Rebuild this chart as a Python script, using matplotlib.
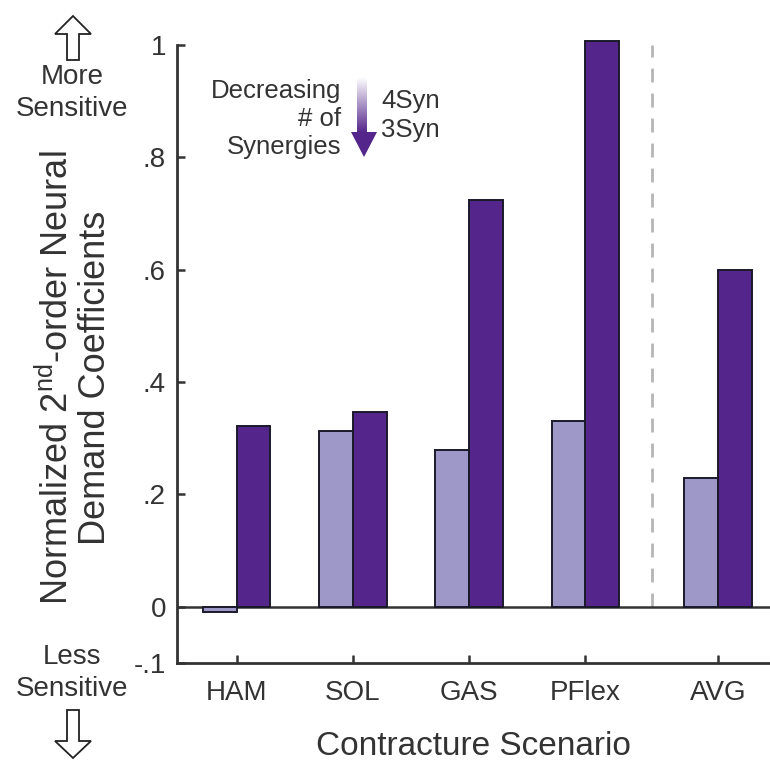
import numpy as np
import matplotlib
matplotlib.use("Agg")
import matplotlib.pyplot as plt
from matplotlib.colors import LinearSegmentedColormap
from matplotlib.patches import Polygon

plt.rcParams['font.family'] = ['Liberation Sans', 'DejaVu Sans']
plt.rcParams['mathtext.fontset'] = 'custom'
plt.rcParams['mathtext.rm'] = 'Liberation Sans'
plt.rcParams['mathtext.it'] = 'Liberation Sans'

# data
scenarios = ['HAM', 'SOL', 'GAS', 'PFlex', 'AVG']
xpos = [1, 2, 3, 4, 5.14]
syn4 = [-0.010, 0.313, 0.279, 0.331, 0.230]
syn3 = [0.322, 0.346, 0.724, 1.008, 0.600]
yticks = [-0.1, 0, 0.2, 0.4, 0.6, 0.8, 1.0]
ytick_labels = ['-.1', '0', '.2', '.4', '.6', '.8', '1']

light = '#9d98c8'
dark = '#54258a'
txt = '#333333'
w = 0.29

fig = plt.figure(figsize=(7.7, 7.61), dpi=100)
ax = fig.add_axes([177 / 770, 1 - 663 / 761, 1 - 177 / 770, (663 - 45) / 761])

x = np.array(xpos)
ax.bar(x - w / 2, syn4, w, color=light, edgecolor='#1a1a2a', linewidth=1.4, clip_on=False, zorder=3)
ax.bar(x + w / 2, syn3, w, color=dark, edgecolor='#1a1a2a', linewidth=1.4, clip_on=False, zorder=3)
ax.axhline(0, color=txt, lw=1.8, zorder=2)
ax.plot([4.57, 4.57], [0, 1.0], color='#b5b5b5', lw=2, dashes=(5, 4), zorder=1)

ax.set_xlim(0.487, 5.587)
ax.set_ylim(-0.1, 1.0)
ax.set_xticks(xpos)
ax.set_xticklabels(scenarios)
ax.set_yticks(yticks)
ax.set_yticklabels(ytick_labels)
ax.tick_params(direction='in', length=6, width=1.8, color=txt, labelcolor=txt, labelsize=20)
ax.tick_params(axis='x', pad=12)
ax.tick_params(axis='y', pad=8)
for s in ['top', 'right']:
    ax.spines[s].set_visible(False)
for s in ['left', 'bottom']:
    ax.spines[s].set_color(txt)
    ax.spines[s].set_linewidth(2)
ax.set_xlabel('Contracture Scenario', fontsize=24, color=txt, labelpad=18)

# overlay in pixel coordinates for side annotations
ov = fig.add_axes([0, 0, 1, 1], zorder=5)
ov.set_xlim(0, 770)
ov.set_ylim(761, 0)
ov.axis('off')
ov.patch.set_alpha(0)

ov.text(76, 378, 'Normalized 2$^{\\rm nd}$-order Neural\nDemand Coefficients', rotation=90,
        ha='center', va='center', multialignment='center', fontsize=26, color=txt, linespacing=1.1)

ov.text(72, 93, 'More\nSensitive', ha='center', va='center', fontsize=20, color=txt, linespacing=1.35)
ov.text(72, 673, 'Less\nSensitive', ha='center', va='center', fontsize=20, color=txt, linespacing=1.35)

up = [(73, 16), (91, 34), (79, 34), (79, 60), (67, 60), (67, 34), (55, 34)]
down = [(73, 758), (91, 741), (79, 741), (79, 710), (67, 710), (67, 741), (55, 741)]
for pts in (up, down):
    ov.add_patch(Polygon(pts, closed=True, fc='white', ec='#222222', lw=1.3))

ov.text(341, 119, 'Decreasing\n# of\nSynergies', ha='right', va='center', fontsize=18.5,
        color=txt, linespacing=1.2, multialignment='right')
cmap = LinearSegmentedColormap.from_list('g', ['#ffffff', dark])
grad = np.linspace(0, 1, 100).reshape(-1, 1)
ov.imshow(grad, cmap=cmap, extent=(357, 367, 133, 77), origin='upper', aspect='auto', zorder=4)
ov.add_patch(Polygon([(351, 132), (377, 132), (364, 157)], closed=True, fc=dark, ec='none', zorder=4))
ov.text(381, 101, '4Syn', ha='left', va='center', fontsize=18.5, color=txt)
ov.text(381, 130, '3Syn', ha='left', va='center', fontsize=18.5, color=txt)
ov.set_xlim(0, 770)
ov.set_ylim(761, 0)

fig.savefig('out.png', dpi=100)
